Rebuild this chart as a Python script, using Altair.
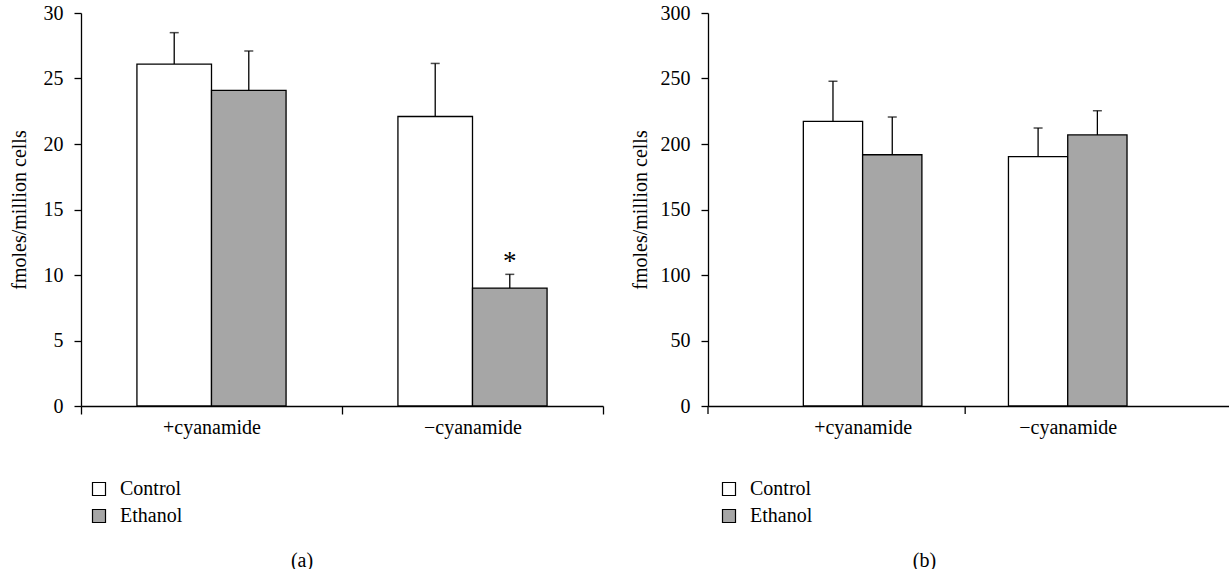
import altair as alt
import pandas as pd

FONT = "Liberation Serif"
FS = 20

categories = ["+cyanamide", "−cyanamide"]
groups = ["Control", "Ethanol"]
fill_colors = ["#ffffff", "#a6a6a6"]

# Panel (a)
a_control = [26.1, 22.1]
a_ethanol = [24.1, 9.0]
a_control_err = [2.4, 4.05]
a_ethanol_err = [3.0, 1.05]
a_ticks = [0, 5, 10, 15, 20, 25, 30]
a_star = [("−cyanamide", "Ethanol", "*")]

# Panel (b)
b_control = [217.3, 190.3]
b_ethanol = [191.8, 206.9]
b_control_err = [30.6, 21.9]
b_ethanol_err = [28.8, 18.5]
b_ticks = [0, 50, 100, 150, 200, 250, 300]

y_title = "fmoles/million cells"


def frame(ctrl, eth, ctrl_err, eth_err):
    rows = []
    for i, c in enumerate(categories):
        rows.append(dict(cat=c, grp="Control", mean=ctrl[i], upper=ctrl[i] + ctrl_err[i]))
        rows.append(dict(cat=c, grp="Ethanol", mean=eth[i], upper=eth[i] + eth_err[i]))
    return pd.DataFrame(rows)


def panel(df, ticks, x_scale, xoff_pad, title_pad, caption, caption_dx, legend_x,
          axis_ticks, star=None):
    ymax = ticks[-1]
    y_scale = alt.Scale(domain=[0, ymax], nice=False, zero=True)
    x_axis = alt.Axis(
        title=None, labelAngle=0, labelFont=FONT, labelFontSize=FS, labelColor="black",
        labelPadding=3 if axis_ticks else 11, domainColor="black", domainWidth=1.3,
        tickColor="black", tickWidth=1.3, tickSize=8, ticks=axis_ticks, tickBand="extent",
    )
    y_axis = alt.Axis(
        title=y_title, values=ticks, labelFont=FONT, labelFontSize=FS, labelColor="black",
        labelPadding=11, domainColor="black", domainWidth=1.3, tickColor="black",
        tickWidth=1.3, tickSize=7, titleFont=FONT, titleFontSize=FS,
        titleFontWeight="normal", titleColor="black", titlePadding=title_pad, grid=False,
    )
    x = alt.X("cat:N", sort=categories, scale=x_scale, axis=x_axis)
    xo = alt.XOffset("grp:N", sort=groups,
                     scale=alt.Scale(domain=groups, paddingInner=0, paddingOuter=xoff_pad))
    base = alt.Chart(df)
    bars = base.mark_bar(stroke="black", strokeWidth=1.3).encode(
        x=x, xOffset=xo,
        y=alt.Y("mean:Q", scale=y_scale, axis=y_axis),
        fill=alt.Fill("grp:N", scale=alt.Scale(domain=groups, range=fill_colors),
                      legend=alt.Legend(
                          orient="none", legendX=legend_x, legendY=466, title=None,
                          symbolType="square", symbolSize=169, symbolStrokeColor="black",
                          symbolStrokeWidth=1.2, labelFont=FONT, labelFontSize=FS,
                          labelColor="black", labelOffset=11, rowPadding=7,
                          direction="vertical")),
    )
    err = base.mark_rule(color="black", strokeWidth=1.3).encode(
        x=x, xOffset=xo, y=alt.Y("mean:Q", scale=y_scale), y2="upper:Q")
    cap = base.mark_tick(color="black", thickness=1.5, size=9, orient="horizontal").encode(
        x=x, xOffset=xo, y=alt.Y("upper:Q", scale=y_scale))
    layers = [bars, err, cap]
    if star:
        sdf = pd.DataFrame([dict(cat=s[0], grp=s[1], label=s[2]) for s in star])
        sdf = sdf.merge(df[["cat", "grp", "upper"]], on=["cat", "grp"])
        txt = alt.Chart(sdf).mark_text(font=FONT, fontSize=27, color="black",
                                       baseline="alphabetic", dy=-4).encode(
            x=x, xOffset=xo, y=alt.Y("upper:Q", scale=y_scale), text="label:N")
        layers.append(txt)
    if not axis_ticks:
        tdf = pd.DataFrame({"cat": categories[1:]})
        t1 = alt.Chart(tdf).mark_rule(color="black", strokeWidth=1.3).encode(
            x=alt.X("cat:N", sort=categories, scale=x_scale, bandPosition=0),
            y=alt.value(393), y2=alt.value(401))
        t0 = alt.Chart(tdf).mark_rule(color="black", strokeWidth=1.3).encode(
            x=alt.value(0), y=alt.value(393), y2=alt.value(401))
        layers += [t1, t0]
    return alt.layer(*layers).properties(
        width=522 if axis_ticks else 521, height=393,
        title=alt.TitleParams(caption, orient="bottom", anchor="middle", font=FONT,
                              fontSize=20, fontWeight="normal", color="black",
                              dx=caption_dx, offset=25),
    )


dfa = frame(a_control, a_ethanol, a_control_err, a_ethanol_err)
dfb = frame(b_control, b_ethanol, b_control_err, b_ethanol_err)

pa = panel(dfa, a_ticks, alt.Scale(domain=categories, paddingInner=0, paddingOuter=0),
           0.75, 14, "(a)", -40, 8, True, star=a_star)
pb = panel(dfb, b_ticks, alt.Scale(domain=categories, paddingInner=0, paddingOuter=0.27,
                                   align=0.47),
           0.73, 10, "(b)", -44, 11, False)

chart = alt.hconcat(pa, pb, spacing=26).resolve_scale(
    x="independent", y="independent", fill="independent", xOffset="independent"
).resolve_legend(fill="independent").properties(
    padding={"left": 9, "top": 3, "right": 0, "bottom": 0},
    background="white",
).configure_view(stroke=None)

chart.save("out.html", embed_options={"renderer": "svg", "actions": False})
